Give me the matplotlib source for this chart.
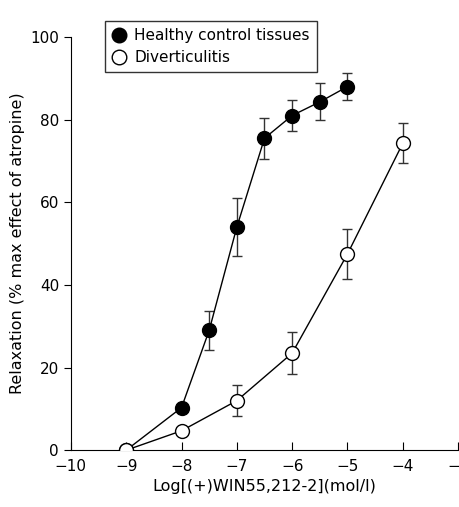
import matplotlib.pyplot as plt

# Data
log_conc_healthy = [-9, -8, -7.5, -7, -6.5, -6, -5.5, -5]
healthy = [0, 10.3, 29, 54, 75.5, 81, 84.3, 88]
healthy_err = [0.5, 1, 4.7, 7, 5, 3.8, 4.5, 3.2]

log_conc_div = [-9, -8, -7, -6, -5, -4]
divert = [0, 4.7, 12, 23.5, 47.5, 74.3]
divert_err = [0.5, 0.8, 3.8, 5, 6, 4.8]

plt.rcParams['font.family'] = ['DejaVu Sans']

fig = plt.figure(figsize=(4.6, 5.07), dpi=100)
ax = fig.add_axes([0.154, 0.112, 0.842, 0.815])

ax.errorbar(log_conc_healthy, healthy, yerr=healthy_err, color='black', ecolor='#333333',
            elinewidth=1, capsize=3.5, lw=1, marker='o', ms=10, mfc='black', mec='black',
            label='Healthy control tissues', zorder=3)
ax.errorbar(log_conc_div, divert, yerr=divert_err, color='black', ecolor='#333333',
            elinewidth=1, capsize=3.5, lw=1, marker='o', ms=10, mfc='white', mec='black',
            label='Diverticulitis', zorder=4)

ax.set_xlim(-10, -3)
ax.set_ylim(0, 100)
ax.set_xticks(range(-10, -2))
ax.set_xticklabels(['\u2212%d' % abs(v) for v in range(-10, -2)])
ax.set_yticks(range(0, 101, 20))
ax.spines['top'].set_visible(False)
ax.spines['right'].set_visible(False)
ax.tick_params(axis='x', direction='in', length=6, labelsize=11, pad=6)
ax.tick_params(axis='y', direction='out', length=5, labelsize=11)
ax.set_xlabel('Log[(+)WIN55,212-2](mol/l)', fontsize=11.5)
ax.set_ylabel('Relaxation (% max effect of atropine)', fontsize=11.5)

handles, labels = ax.get_legend_handles_labels()
handles = [h[0] for h in handles]
leg = ax.legend(handles, labels, loc='upper left', bbox_to_anchor=(0.211, 0.973),
                bbox_transform=fig.transFigure, fontsize=11, frameon=True,
                fancybox=False, edgecolor='black', handlelength=1.0,
                handletextpad=0.5, borderpad=0.45, labelspacing=0.45)
leg.get_frame().set_linewidth(1)
for h in leg.legend_handles:
    h.set_linestyle('none')
    h.set_markersize(10.5)

plt.savefig('out.png', dpi=100)
